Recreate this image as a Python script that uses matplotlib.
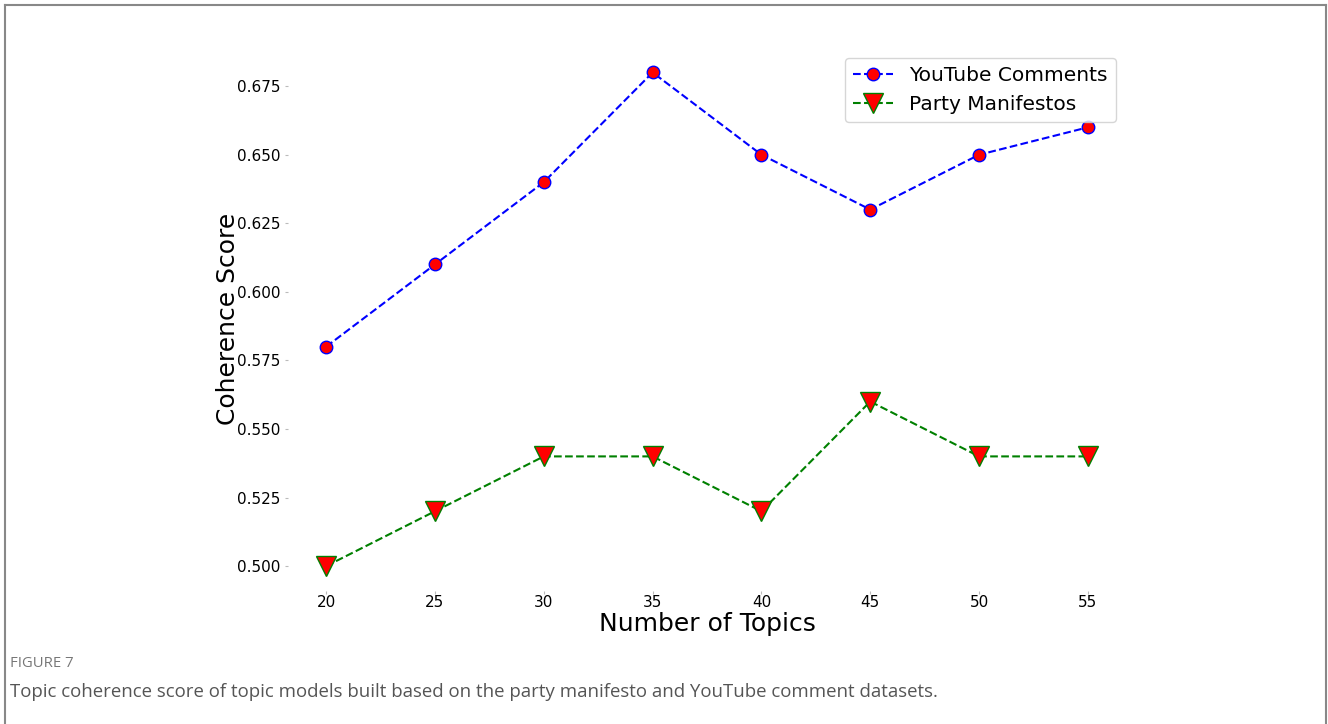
import matplotlib.pyplot as plt
from matplotlib.lines import Line2D

# Data
topics = [20, 25, 30, 35, 40, 45, 50, 55]
youtube = [0.58, 0.61, 0.64, 0.68, 0.65, 0.63, 0.65, 0.66]
manifestos = [0.50, 0.52, 0.54, 0.54, 0.52, 0.56, 0.54, 0.54]

fig = plt.figure(figsize=(13.28, 7.24), dpi=100)
ax = fig.add_axes([0.2169, 0.184, 0.631, 0.750])

ax.plot(topics, youtube, linestyle="--", color="blue", linewidth=1.5,
        marker="o", markersize=9, markerfacecolor="red",
        markeredgecolor="blue", label="YouTube Comments")
ax.plot(topics, manifestos, linestyle="--", color="green", linewidth=1.5,
        marker="v", markersize=14, markerfacecolor="red",
        markeredgecolor="green", label="Party Manifestos")

ax.set_xlabel("Number of Topics", fontsize=18, labelpad=1.5)
ax.set_ylabel("Coherence Score", fontsize=18, labelpad=-2.5)
ax.tick_params(labelsize=11, length=2, color="#bbbbbb")
ax.tick_params(axis="x", pad=1)
for s in ax.spines.values():
    s.set_visible(False)

ax.legend(loc="upper right", fontsize=14.5)

# Caption
fig.text(0.0075, 0.084, "FIGURE 7", fontsize=10.7, color="#777777",
         family="Open Sans", va="center")
fig.text(0.0075, 0.044, "Topic coherence score of topic models built based on "
         "the party manifesto and YouTube comment datasets.",
         fontsize=13.4, color="#555555", family="Open Sans", va="center")

# Page frame
frame = dict(color="#888888", linewidth=1.5, transform=fig.transFigure)
fig.add_artist(Line2D([0.0035, 0.0035], [0.0, 0.993], **frame))
fig.add_artist(Line2D([0.0035, 0.9985], [0.993, 0.993], **frame))
fig.add_artist(Line2D([0.9985, 0.9985], [0.0, 0.993], **frame))

plt.savefig("out.png", dpi=100)
